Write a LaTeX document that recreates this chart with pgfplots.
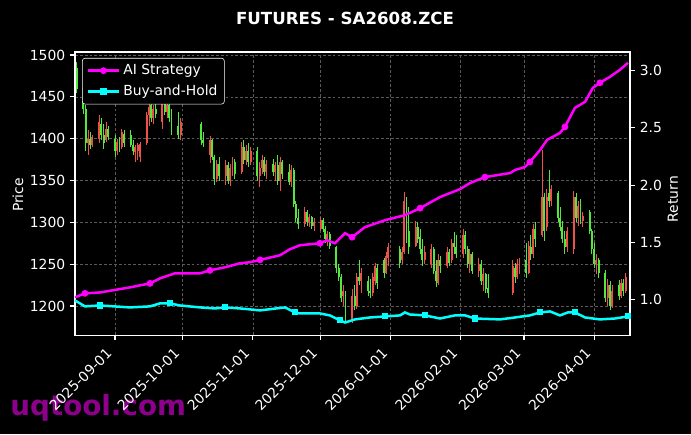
\documentclass[border=0pt]{standalone}
\usepackage{fontspec}
\setmainfont{DejaVu Sans}
\usepackage{pgfplots}
\usepackage{pgfplotstable}
\pgfplotsset{compat=1.18}
\usetikzlibrary{backgrounds}

\definecolor{upc}{HTML}{F0504A}
\definecolor{dnc}{HTML}{52E83E}
\definecolor{aic}{HTML}{FF00FF}
\definecolor{bhc}{HTML}{00FFFF}
\definecolor{gridc}{HTML}{5A5A5A}
\definecolor{wm}{RGB}{140,0,140}

% day = days from 2025-09-01; o h l c
\pgfplotstableread{
d o h l c
-12 1395 1410 1380 1400
-10 1392 1405 1390 1402
-7 1400 1428 1395 1420
-4 1398 1420 1396 1412
1 1385 1400 1380 1396
3 1390 1412 1388 1408
9 1384 1392 1372 1390
10 1385 1395 1375 1392
11 1378 1396 1372 1394
14 1395 1432 1393 1428
15 1428 1442 1415 1438
17 1425 1440 1418 1436
21 1420 1450 1412 1445
23 1432 1445 1425 1440
29 1405 1425 1398 1420
42 1380 1403 1371 1398
45 1352 1375 1348 1370
49 1355 1375 1345 1368
51 1350 1370 1344 1365
52 1365 1378 1355 1372
56 1360 1396 1358 1390
58 1375 1392 1368 1385
60 1372 1390 1368 1385
64 1355 1372 1342 1365
65 1365 1380 1358 1375
67 1360 1375 1352 1370
71 1360 1372 1350 1368
73 1350 1378 1338 1372
78 1348 1368 1342 1362
84 1298 1318 1295 1312
86 1300 1310 1294 1306
88 1296 1305 1290 1300
91 1292 1306 1290 1303
94 1280 1290 1272 1286
101 1212 1225 1200 1218
105 1185 1220 1180 1212
107 1200 1240 1196 1235
109 1230 1245 1215 1240
114 1215 1240 1212 1235
115 1230 1252 1225 1248
120 1240 1265 1238 1260
121 1258 1275 1248 1270
127 1255 1270 1250 1265
128 1265 1336 1262 1325
133 1272 1302 1270 1295
137 1255 1272 1250 1265
140 1250 1274 1246 1268
143 1228 1262 1225 1255
147 1248 1270 1245 1265
149 1255 1280 1252 1275
154 1262 1292 1258 1285
157 1250 1268 1240 1262
161 1242 1258 1235 1250
163 1230 1245 1218 1238
176 1215 1255 1213 1248
178 1235 1256 1232 1250
179 1250 1258 1238 1255
183 1240 1278 1238 1272
185 1262 1298 1258 1292
189 1285 1386 1282 1330
191 1295 1340 1290 1330
193 1325 1345 1320 1340
200 1270 1295 1265 1290
203 1268 1338 1262 1330
205 1305 1326 1296 1320
207 1302 1312 1294 1308
213 1250 1262 1238 1255
218 1210 1232 1200 1225
220 1200 1225 1198 1218
224 1212 1232 1210 1228
226 1218 1240 1215 1235
}\candlesup

\pgfplotstableread{
d o h l c
-17 1485 1492 1455 1460
-14 1460 1470 1430 1435
-13 1435 1440 1385 1395
-11 1400 1408 1388 1392
-6 1418 1425 1398 1405
-5 1405 1418 1388 1395
-3 1412 1415 1398 1402
0 1400 1405 1378 1385
2 1395 1402 1384 1388
4 1406 1410 1390 1395
7 1405 1410 1390 1393
8 1393 1398 1380 1385
16 1440 1450 1420 1425
18 1436 1448 1425 1430
22 1445 1455 1428 1432
24 1440 1448 1420 1425
25 1425 1435 1405 1412
28 1415 1432 1400 1405
38 1418 1420 1392 1398
39 1398 1408 1390 1395
43 1398 1400 1375 1378
44 1378 1380 1345 1352
46 1370 1378 1350 1355
50 1368 1372 1346 1350
53 1372 1376 1352 1358
57 1390 1398 1370 1375
59 1385 1395 1366 1372
63 1385 1390 1350 1355
66 1375 1378 1355 1360
70 1370 1376 1355 1360
72 1368 1380 1345 1350
74 1372 1375 1352 1358
77 1360 1370 1345 1348
79 1362 1365 1318 1322
80 1322 1325 1300 1305
81 1305 1316 1292 1298
85 1312 1315 1296 1300
87 1306 1308 1292 1296
92 1303 1305 1288 1292
93 1292 1296 1275 1280
95 1286 1288 1268 1272
98 1270 1272 1240 1245
99 1245 1250 1230 1235
100 1235 1238 1205 1210
102 1215 1218 1180 1185
106 1212 1225 1195 1200
108 1235 1255 1225 1230
112 1230 1236 1212 1218
113 1218 1232 1210 1215
116 1245 1250 1220 1228
119 1255 1258 1234 1240
126 1268 1272 1246 1252
129 1325 1330 1275 1285
130 1290 1318 1262 1270
134 1295 1300 1275 1280
135 1282 1292 1262 1268
136 1268 1280 1248 1255
141 1268 1270 1238 1242
142 1242 1255 1223 1230
144 1255 1260 1240 1248
148 1265 1268 1248 1252
150 1275 1288 1262 1270
151 1270 1285 1258 1262
155 1285 1290 1262 1268
156 1268 1272 1245 1250
158 1262 1265 1238 1242
162 1250 1255 1225 1230
164 1238 1240 1215 1220
165 1222 1238 1210 1215
177 1245 1252 1228 1235
182 1255 1275 1234 1240
184 1270 1285 1255 1262
186 1292 1300 1270 1280
190 1330 1335 1278 1290
192 1335 1363 1318 1325
196 1335 1338 1300 1305
197 1305 1318 1290 1295
198 1295 1302 1275 1280
199 1280 1290 1262 1270
204 1330 1335 1300 1305
206 1320 1328 1298 1302
210 1312 1315 1286 1290
211 1290 1292 1262 1268
212 1268 1275 1245 1250
214 1255 1258 1234 1240
217 1240 1243 1205 1210
219 1225 1230 1195 1200
223 1225 1231 1207 1212
225 1228 1232 1212 1218
}\candlesdown

\pgfplotsset{
  base/.style={
    scale only axis, width=399.6pt, height=203.8pt,
    xmin=-17.7, xmax=227.9,
    axis line style={white, line width=0.8pt},
    tick style={white, line width=0.8pt},
    major tick length=3.5pt, tick align=outside,
    ticklabel style={white, font=\fontsize{10}{12}\selectfont},
    label style={white, font=\fontsize{10}{12}\selectfont},
    /pgf/number format/assume math mode=true,
    /pgf/number format/1000 sep={},
  },
  candle/.style 2 args={mark=none, forget plot, #1, draw=none,
    error bars/.cd, y dir=both, y explicit, error mark=none,
    error bar style={draw=#1, line width=#2}},
}

\begin{document}
\begin{tikzpicture}
\begin{axis}[base,
  ymin=1165.3, ymax=1503.6,
  ytick={1200,1250,1300,1350,1400,1450,1500},
  xtick={0,30,61,91,122,153,181,212},
  xticklabels={2025-09-01,2025-10-01,2025-11-01,2025-12-01,2026-01-01,2026-02-01,2026-03-01,2026-04-01},
  xticklabel style={xshift=-7pt, yshift=-5pt, rotate=45, anchor=north east, inner sep=0pt},
  xtick pos=left, ytick pos=left,
  grid=major, grid style={gridc, dash pattern=on 2pt off 1.5pt, line width=0.5pt},
  ylabel={Price},
  ylabel style={at={(axis description cs:-0.1027,0.495)}, anchor=center, rotate=0},
]
\coordinate (bl) at (rel axis cs:-0.13514,-0.34982);
\coordinate (tr) at (rel axis cs:1.10991,1.18375);
\coordinate (wmc) at (rel axis cs:-0.117,-0.258);
\addplot[candle={upc}{0.5pt}] table[x=d, y expr={(\thisrow{h}+\thisrow{l})/2}, y error expr={(\thisrow{h}-\thisrow{l})/2}] {\candlesup};
\addplot[candle={upc}{1.4pt}] table[x=d, y expr={(\thisrow{o}+\thisrow{c})/2}, y error expr={abs(\thisrow{c}-\thisrow{o})/2}] {\candlesup};
\addplot[candle={dnc}{0.5pt}] table[x=d, y expr={(\thisrow{h}+\thisrow{l})/2}, y error expr={(\thisrow{h}-\thisrow{l})/2}] {\candlesdown};
\addplot[candle={dnc}{1.4pt}] table[x=d, y expr={(\thisrow{o}+\thisrow{c})/2}, y error expr={abs(\thisrow{c}-\thisrow{o})/2}] {\candlesdown};
\end{axis}

\begin{axis}[base,
  ymin=0.688, ymax=3.164,
  axis y line*=right, axis x line=none,
  ytick={1.0,1.5,2.0,2.5,3.0},
  yticklabel style={/pgf/number format/.cd, fixed, fixed zerofill, precision=1},
  ylabel={Return},
  ylabel style={at={(axis description cs:1.0775,0.48)}, anchor=center},
  clip=false,
  legend style={at={(0.0126,0.979)}, anchor=north west, fill=black, draw=white,
    rounded corners=2pt, text=white, font=\fontsize{10}{12}\selectfont,
    inner xsep=3pt, inner ysep=2.5pt, row sep=2pt},
  legend cell align=left,
  legend image code/.code={\draw[mark repeat=2, mark phase=2, #1] plot coordinates {(0cm,0cm) (0.4cm,0cm) (0.8cm,0cm)};},
]
\addplot[aic, line width=1.8pt, mark=*, mark size=1.5pt, mark repeat=4, mark phase=2] coordinates {
(-17.7,1.018)(-13.3,1.053)(-6.6,1.061)(6.6,1.105)(11.1,1.123)(15.5,1.140)
(19.9,1.184)(26.5,1.228)(37.6,1.228)(42.0,1.254)(48.7,1.281)(55.3,1.316)
(59.7,1.325)(64.2,1.346)(73.0,1.386)(77.4,1.439)(81.9,1.474)(90.7,1.491)
(93.8,1.518)(97.3,1.491)(101.8,1.579)(104.9,1.544)(110.6,1.632)(119.5,1.693)
(128.3,1.737)(135.0,1.798)(143.8,1.895)(152.7,1.965)(157.1,2.018)(163.7,2.070)
(174.8,2.105)(177.0,2.132)(181.4,2.158)(183.6,2.202)(188.1,2.307)(191.2,2.395)
(196.9,2.456)(199.1,2.509)(203.5,2.675)(208.0,2.728)(211.5,2.851)(214.6,2.895)
(219.0,2.947)(223.5,3.009)(227.0,3.070)
};
\addlegendentry{AI Strategy}
\addplot[bhc, line width=1.8pt, mark=square*, mark size=1.3pt, mark repeat=4, mark phase=3] coordinates {
(-17.7,0.991)(-13.3,0.939)(-6.6,0.947)(6.6,0.930)(15.5,0.939)(19.9,0.965)
(24.3,0.965)(28.8,0.947)(37.6,0.930)(44.2,0.921)(48.7,0.930)(55.3,0.921)
(64.2,0.904)(75.2,0.930)(79.6,0.886)(81.9,0.877)(90.7,0.877)(95.1,0.860)
(99.6,0.816)(101.8,0.798)(106.2,0.825)(112.8,0.842)(119.5,0.851)(126.1,0.860)
(128.3,0.886)(130.5,0.868)(137.2,0.860)(143.8,0.833)(150.4,0.860)(154.9,0.860)
(159.3,0.833)(170.4,0.825)(177.0,0.842)(183.6,0.860)(188.1,0.886)(192.5,0.895)
(196.9,0.860)(200.4,0.886)(203.5,0.886)(208.0,0.842)(214.6,0.825)(221.2,0.833)
(227.0,0.851)
};
\addlegendentry{Buy-and-Hold}
\node[white, font=\bfseries\fontsize{12}{14}\selectfont] at (rel axis cs:0.4865,1.12) {FUTURES - SA2608.ZCE};
\end{axis}

\begin{scope}[on background layer]
\fill[black] (bl) rectangle (tr);
\node[anchor=west, inner sep=0pt, text=wm, font=\bfseries\fontsize{20}{24}\selectfont] at (wmc) {uqtool.com};
\end{scope}
\pgfresetboundingbox
\path[use as bounding box] (bl) rectangle (tr);
\end{tikzpicture}
\end{document}
